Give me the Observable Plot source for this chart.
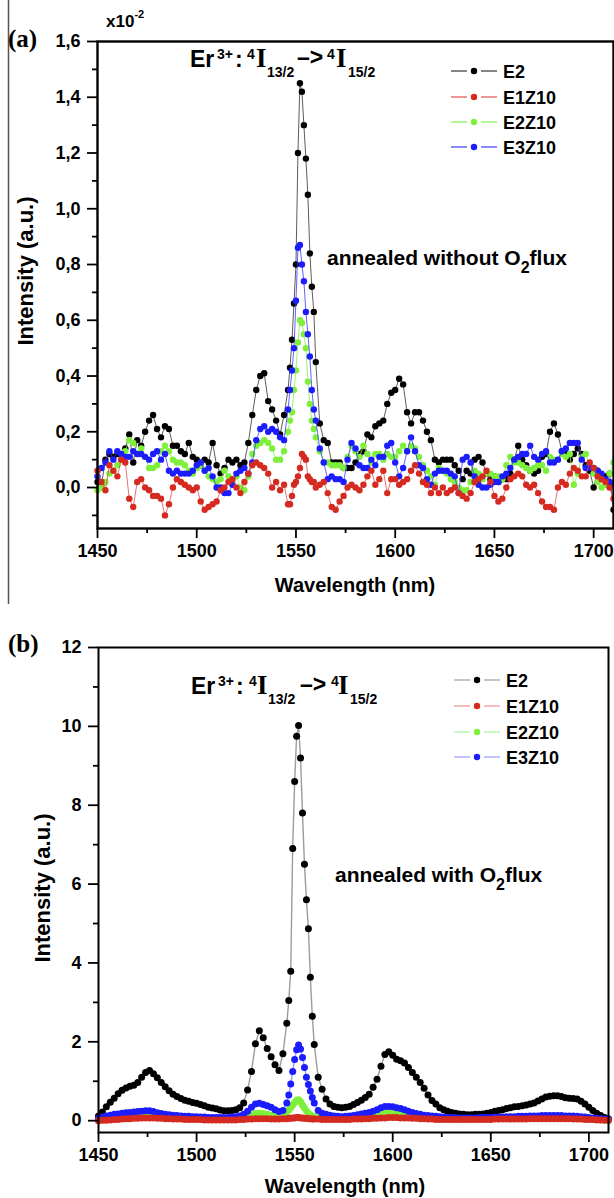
<!DOCTYPE html>
<html><head><meta charset="utf-8">
<script src="https://cdn.jsdelivr.net/npm/d3@7"></script>
<script src="https://cdn.jsdelivr.net/npm/@observablehq/plot@0.6"></script>
<style>
body{margin:0;background:#fff;}
#root{position:relative;width:614px;height:1198px;overflow:hidden;background:#fff;}
#root > svg{position:absolute;left:0;}
#overlay{position:absolute;left:0;top:0;pointer-events:none;}
</style></head><body><div id="root"></div>
<script>
// ---------- data ----------
const wavelength = [
  1450,1452,1454,1456,1458,1460,1462,1464,1466,1468,
  1470,1472,1474,1476,1478,1480,1482,1484,1486,1488,
  1490,1492,1494,1496,1498,1500,1502,1504,1506,1508,
  1510,1512,1514,1516,1518,1520,1522,1524,1526,1528,
  1530,1532,1534,1536,1538,1540,1542,1544,
  1546,1547,1548,1549,1550,1551,1552,1553,1554,1555,1556,1557,1558,1559,1560,
  1562,1564,1566,1568,1570,1572,1574,1576,1578,1580,
  1582,1584,1586,1588,1590,1592,1594,1596,1598,1600,
  1602,1604,1606,1608,1610,1612,1614,1616,1618,1620,
  1622,1624,1626,1628,1630,1632,1634,1636,1638,1640,
  1642,1644,1646,1648,1650,1652,1654,1656,1658,1660,
  1662,1664,1666,1668,1670,1672,1674,1676,1678,1680,
  1682,1684,1686,1688,1690,1692,1694,1696,1698,1700,
  1702,1704,1706,1708,1710
];

// panel (a): annealed without O2 flux (x10^-2)
const aE2 = [
  0.02,0.01,0.10,0.12,0.11,0.12,0.10,0.14,0.19,0.09,
  0.17,0.15,0.20,0.24,0.26,0.21,0.18,0.22,0.21,0.15,
  0.15,0.13,0.12,0.16,0.11,0.10,0.08,0.10,0.09,0.16,
  0.08,0.05,0.07,0.10,0.09,0.10,0.08,0.09,0.16,0.26,
  0.35,0.40,0.41,0.31,0.28,0.24,0.19,0.26,
  0.35,0.43,0.53,0.66,0.80,1.20,1.45,1.42,1.30,1.18,1.05,0.84,0.72,0.63,0.45,
  0.23,0.17,0.16,0.09,0.09,0.09,0.07,0.07,0.07,0.09,
  0.12,0.13,0.19,0.18,0.22,0.23,0.24,0.30,0.34,0.35,
  0.39,0.37,0.27,0.23,0.27,0.27,0.24,0.20,0.17,0.10,
  0.09,0.10,0.10,0.10,0.08,0.06,0.03,0.06,0.05,0.10,
  0.11,0.09,0.05,0.03,0.04,0.02,0.03,0.03,0.05,0.10,
  0.15,0.10,0.08,0.06,0.05,0.06,0.11,0.12,0.20,0.23,
  0.19,0.13,0.12,0.10,0.12,0.14,0.12,0.08,0.06,0.00,
  0.06,0.03,0.04,0.05,-0.08
];
const aE1Z10 = [
  0.06,0.02,-0.01,0.08,0.06,0.04,0.10,0.09,-0.04,-0.07,
  0.02,0.03,0.00,-0.01,-0.03,-0.03,-0.04,-0.10,-0.06,0.00,
  0.03,0.02,0.01,0.00,-0.01,0.00,-0.05,-0.08,-0.07,-0.06,
  -0.05,-0.01,0.00,0.02,0.03,0.00,-0.02,0.02,0.05,0.08,
  0.09,0.08,0.07,0.05,0.00,0.02,-0.01,0.01,
  -0.06,-0.06,-0.03,0.01,0.02,0.04,0.07,0.12,0.11,0.10,0.04,0.03,0.02,0.02,0.00,
  0.01,0.02,-0.02,-0.07,-0.08,-0.05,-0.03,0.00,0.01,0.00,
  -0.01,0.01,0.04,0.06,0.01,0.03,0.06,-0.02,0.03,0.03,
  0.01,0.02,0.03,0.06,0.08,0.05,0.02,0.01,-0.02,0.00,
  -0.02,0.00,-0.02,-0.01,0.00,-0.02,-0.03,-0.04,-0.02,0.02,
  0.03,0.04,0.06,0.02,-0.03,-0.05,-0.04,0.00,0.03,0.04,
  0.05,0.04,0.01,0.00,0.01,-0.02,-0.05,-0.07,-0.07,-0.08,
  0.00,0.02,0.01,0.05,0.07,0.06,0.04,0.04,0.09,0.07,
  0.04,0.03,0.02,0.00,-0.04
];
const aE2Z10 = [
  -0.01,0.00,0.02,0.05,0.06,0.08,0.10,0.13,0.17,0.16,
  0.12,0.14,0.11,0.07,0.07,0.08,0.13,0.15,0.13,0.10,
  0.09,0.09,0.08,0.06,0.05,0.07,0.08,0.06,0.04,0.03,
  0.02,0.03,0.06,0.04,0.02,0.04,0.00,-0.01,0.04,0.12,
  0.15,0.16,0.17,0.16,0.14,0.10,0.10,0.13,
  0.20,0.24,0.27,0.35,0.42,0.52,0.60,0.59,0.55,0.50,0.38,0.30,0.24,0.21,0.18,
  0.13,0.09,0.09,0.08,0.08,0.08,0.07,0.11,0.15,0.13,
  0.11,0.15,0.12,0.09,0.12,0.12,0.10,0.12,0.11,0.11,
  0.13,0.15,0.13,0.15,0.14,0.11,0.08,0.06,0.04,0.01,
  0.07,0.06,0.05,0.03,0.02,0.00,-0.01,-0.01,0.02,0.06,
  0.05,0.03,0.05,0.05,0.04,0.04,0.03,0.08,0.11,0.09,
  0.09,0.08,0.07,0.06,0.07,0.08,0.08,0.06,0.11,0.10,
  0.10,0.12,0.11,0.12,0.01,0.05,0.11,0.12,0.08,0.05,
  0.02,0.00,0.01,0.05,0.09
];
const aE3Z10 = [
  0.04,0.07,0.09,0.13,0.10,0.13,0.12,0.11,0.11,0.13,
  0.12,0.12,0.11,0.10,0.12,0.13,0.10,0.12,0.06,0.05,
  0.06,0.05,0.05,0.05,0.06,0.08,0.09,0.06,0.07,0.04,
  0.00,0.00,-0.02,-0.02,0.01,0.05,0.06,0.07,0.05,0.09,
  0.17,0.21,0.22,0.20,0.21,0.20,0.18,0.17,
  0.28,0.35,0.42,0.50,0.67,0.86,0.87,0.80,0.74,0.63,0.55,0.47,0.35,0.28,0.24,
  0.14,0.09,0.03,0.04,0.03,0.03,0.02,0.10,0.16,0.14,
  0.08,0.07,0.07,0.10,0.08,0.11,0.11,0.15,0.16,0.09,
  0.04,0.07,0.13,0.18,0.13,0.08,0.07,0.03,0.01,0.05,
  0.06,0.06,0.06,0.05,0.04,-0.02,0.10,0.11,0.09,0.04,
  0.01,0.00,0.00,0.01,0.02,0.02,0.04,0.05,0.07,0.10,
  0.11,0.12,0.12,0.15,0.11,0.10,0.12,0.13,0.09,0.09,
  0.10,0.13,0.14,0.16,0.16,0.16,0.10,0.07,0.07,0.07,
  0.06,0.05,0.03,0.02,0.01
];

// panel (b): annealed with O2 flux
const bE2 = [
  0.12,0.22,0.35,0.47,0.57,0.68,0.77,0.83,0.87,0.90,
  0.97,1.10,1.22,1.27,1.19,1.09,0.97,0.86,0.76,0.67,
  0.61,0.56,0.52,0.49,0.46,0.44,0.41,0.38,0.34,0.32,
  0.30,0.27,0.25,0.25,0.26,0.28,0.33,0.45,0.78,1.25,
  1.95,2.28,2.10,1.83,1.62,1.42,1.27,1.70,
  2.47,3.05,3.79,6.90,8.60,9.75,10.02,9.20,7.80,6.50,5.60,4.87,3.64,2.65,1.93,
  1.10,0.80,0.55,0.42,0.36,0.34,0.33,0.34,0.36,0.41,
  0.46,0.52,0.59,0.67,0.85,1.05,1.38,1.68,1.75,1.66,
  1.56,1.52,1.46,1.35,1.22,1.10,0.97,0.82,0.65,0.51,
  0.42,0.33,0.28,0.24,0.21,0.19,0.17,0.16,0.15,0.15,
  0.16,0.16,0.17,0.19,0.21,0.24,0.26,0.28,0.31,0.33,
  0.35,0.36,0.38,0.40,0.42,0.45,0.50,0.55,0.60,0.62,
  0.63,0.63,0.61,0.58,0.57,0.56,0.55,0.49,0.42,0.34,
  0.26,0.19,0.13,0.08,0.04
];
const bE1Z10 = [
  0.00,0.01,0.01,0.02,0.03,0.03,0.04,0.05,0.05,0.06,
  0.06,0.07,0.07,0.07,0.07,0.06,0.06,0.05,0.05,0.04,
  0.04,0.04,0.03,0.03,0.03,0.03,0.03,0.02,0.02,0.02,
  0.02,0.02,0.02,0.02,0.02,0.02,0.03,0.03,0.04,0.04,
  0.05,0.05,0.05,0.05,0.04,0.04,0.04,0.05,
  0.05,0.06,0.06,0.07,0.07,0.08,0.08,0.07,0.07,0.06,0.06,0.05,0.05,0.04,0.04,
  0.04,0.03,0.03,0.03,0.03,0.03,0.03,0.03,0.03,0.04,
  0.04,0.04,0.05,0.05,0.06,0.06,0.07,0.07,0.08,0.08,
  0.08,0.07,0.07,0.07,0.06,0.06,0.05,0.05,0.04,0.04,
  0.03,0.03,0.03,0.03,0.03,0.03,0.03,0.03,0.03,0.03,
  0.03,0.03,0.03,0.03,0.03,0.04,0.04,0.04,0.04,0.04,
  0.04,0.04,0.04,0.04,0.05,0.05,0.05,0.05,0.05,0.05,
  0.05,0.05,0.05,0.05,0.05,0.04,0.04,0.04,0.03,0.03,
  0.03,0.02,0.02,0.01,0.01
];
const bE2Z10 = [
  0.02,0.03,0.04,0.05,0.06,0.07,0.08,0.09,0.10,0.10,
  0.11,0.12,0.13,0.13,0.12,0.11,0.10,0.09,0.08,0.08,
  0.07,0.07,0.06,0.06,0.06,0.05,0.05,0.05,0.05,0.05,
  0.05,0.05,0.05,0.05,0.05,0.06,0.07,0.09,0.12,0.15,
  0.18,0.19,0.18,0.16,0.14,0.12,0.12,0.15,
  0.22,0.27,0.33,0.40,0.46,0.52,0.53,0.48,0.40,0.32,0.25,0.19,0.15,0.12,0.10,
  0.08,0.07,0.06,0.06,0.05,0.05,0.05,0.05,0.06,0.06,
  0.07,0.08,0.09,0.10,0.12,0.14,0.17,0.19,0.20,0.20,
  0.19,0.18,0.17,0.15,0.13,0.11,0.09,0.08,0.07,0.06,
  0.05,0.05,0.05,0.04,0.04,0.04,0.04,0.04,0.04,0.04,
  0.04,0.05,0.05,0.05,0.05,0.05,0.05,0.06,0.06,0.06,
  0.06,0.06,0.06,0.07,0.07,0.07,0.07,0.07,0.07,0.07,
  0.07,0.07,0.07,0.06,0.06,0.06,0.05,0.05,0.04,0.04,
  0.03,0.03,0.02,0.02,0.01
];
const bE3Z10 = [
  0.06,0.09,0.12,0.14,0.16,0.17,0.19,0.20,0.21,0.22,
  0.23,0.24,0.25,0.25,0.23,0.20,0.18,0.16,0.15,0.14,
  0.13,0.12,0.11,0.11,0.10,0.10,0.09,0.09,0.08,0.08,
  0.08,0.08,0.08,0.08,0.09,0.10,0.12,0.16,0.24,0.34,
  0.42,0.44,0.41,0.38,0.34,0.28,0.23,0.26,
  0.45,0.65,0.93,1.25,1.55,1.80,1.92,1.82,1.60,1.35,1.10,0.92,0.75,0.59,0.45,
  0.26,0.19,0.16,0.14,0.12,0.11,0.10,0.11,0.12,0.13,
  0.15,0.17,0.19,0.21,0.24,0.28,0.33,0.36,0.36,0.35,
  0.33,0.31,0.28,0.24,0.21,0.18,0.16,0.14,0.13,0.12,
  0.11,0.10,0.09,0.08,0.08,0.08,0.07,0.07,0.07,0.07,
  0.07,0.08,0.08,0.08,0.08,0.09,0.09,0.09,0.10,0.10,
  0.10,0.11,0.11,0.11,0.12,0.12,0.12,0.13,0.13,0.13,
  0.13,0.13,0.13,0.12,0.12,0.12,0.11,0.10,0.09,0.08,
  0.07,0.06,0.05,0.04,0.04
];

const seriesNames = ["E2", "E1Z10", "E2Z10", "E3Z10"];
const dotColors = ["#000000", "#d42a20", "#7ef03c", "#1c1cff"];
const aLineColors = ["#333333", "#e05050", "#80f050", "#3a3aff"];
const bLineColors = ["#9c9c9c", "#f09090", "#a8f0a0", "#9a9aff"];
const xTicks = [1450, 1500, 1550, 1600, 1650, 1700];
const xMinorTicks = [1475, 1525, 1575, 1625, 1675];
const aYTicks = [0, 0.2, 0.4, 0.6, 0.8, 1.0, 1.2, 1.4, 1.6];
const aYMinor = [-0.1, 0.1, 0.3, 0.5, 0.7, 0.9, 1.1, 1.3, 1.5];
const bYTicks = [0, 2, 4, 6, 8, 10, 12];
const bYMinor = [1, 3, 5, 7, 9, 11];

// ---------- drawing ----------
const FONT = "'Liberation Sans', Arial, Helvetica, sans-serif";
const drawOrder = [0, 2, 3, 1];

function panel(o) {
  o.series.forEach((s, k) => { if (s.length !== wavelength.length) console.error("length mismatch", seriesNames[k], s.length); });
  const rows = o.series.map((vals, k) => wavelength.map((w, i) => ({w, v: vals[i], s: seriesNames[k]})));
  const marks = [];
  for (const k of drawOrder) {
    marks.push(Plot.line(rows[k], {x: "w", y: "v", stroke: o.lineColors[k], strokeWidth: o.lineWidth}));
    marks.push(Plot.dot(rows[k], {x: "w", y: "v", r: o.r, fill: dotColors[k]}));
  }
  marks.push(Plot.axisX({ticks: xTicks, tickSize: 10, tickPadding: 6, strokeWidth: 1.8, fontSize: 18, fontWeight: "bold", tickFormat: d => String(d), label: null}));
  marks.push(Plot.axisX({ticks: xMinorTicks, tickSize: 5, strokeWidth: 1.8, tickFormat: () => "", label: null}));
  marks.push(Plot.axisY({ticks: o.yTicks, tickSize: 10, tickPadding: 7, strokeWidth: 1.8, fontSize: 18, fontWeight: "bold", tickFormat: o.yFormat, label: null}));
  marks.push(Plot.axisY({ticks: o.yMinor, tickSize: 5, strokeWidth: 1.8, tickFormat: () => "", label: null}));
  marks.push(Plot.frame({stroke: "#000", strokeWidth: o.frameWidth}));
  const svg = Plot.plot({
    width: 614, height: o.height,
    marginTop: o.mt, marginBottom: o.mb, marginLeft: o.ml, marginRight: o.mr,
    x: {domain: [1450, 1710]},
    y: {domain: o.yDomain},
    style: {fontFamily: FONT, background: "transparent", overflow: "visible", color: "#000"},
    marks
  });
  svg.style.top = o.top + "px";
  return svg;
}

const root = document.getElementById("root");
root.appendChild(panel({
  series: [aE2, aE1Z10, aE2Z10, aE3Z10], lineColors: aLineColors, lineWidth: 0.8, r: 3.2,
  yTicks: aYTicks, yMinor: aYMinor, yFormat: d => d.toFixed(1).replace(".", ","),
  yDomain: [-0.147, 1.6], height: 600, top: 0, mt: 41, mb: 72, ml: 97, mr: 1, frameWidth: 2.4
}));
root.appendChild(panel({
  series: [bE2, bE1Z10, bE2Z10, bE3Z10], lineColors: bLineColors, lineWidth: 1.4, r: 3.5,
  yTicks: bYTicks, yMinor: bYMinor, yFormat: d => String(d),
  yDomain: [-0.3, 12], height: 598, top: 600, mt: 47, mb: 66, ml: 98, mr: 6, frameWidth: 2
}));

// ---------- text overlay ----------
function titleSVG(dy, xs) {
  const p = (x, y, size, txt, fam) => `<tspan x="${x}" y="${y + dy}" font-size="${size}"${fam ? ` font-family="${fam}"` : ""}>${txt}</tspan>`;
  const serif = "'Liberation Serif', 'Times New Roman', serif";
  return `<text font-weight="bold" fill="#000">` +
    p(xs[0], 67, 23, "Er") + p(xs[1], 59, 14, "3+") + p(xs[2], 67, 23, ":") +
    p(xs[3], 59, 14, "4") + p(xs[4], 67, 27, "I", serif) + p(xs[5], 77, 14, "13/2") +
    p(xs[6], 65, 23, "–&gt;") +
    p(xs[7], 59, 14, "4") + p(xs[8], 67, 27, "I", serif) + p(xs[9], 77, 14, "15/2") +
    `</text>`;
}
function legendSVG(x0, ys, lineColors) {
  return ys.map((y, k) =>
    `<line x1="${x0}" x2="${x0 + 16}" y1="${y}" y2="${y}" stroke="${lineColors[k]}" stroke-width="1.2"/>` +
    `<line x1="${x0 + 30}" x2="${x0 + 46}" y1="${y}" y2="${y}" stroke="${lineColors[k]}" stroke-width="1.2"/>` +
    `<circle cx="${x0 + 23}" cy="${y}" r="3.2" fill="${dotColors[k]}"/>` +
    `<text x="${x0 + 52}" y="${y + 6.5}" font-size="18" font-weight="bold">${seriesNames[k]}</text>`
  ).join("");
}
const overlay = `<svg id="overlay" width="614" height="1198" font-family="${FONT.replace(/'/g, "&quot;")}">
  <line x1="8.5" x2="8.5" y1="0" y2="604" stroke="#555" stroke-width="1.5"/>
  <text x="8" y="47" font-size="25" font-weight="bold" font-family="Liberation Serif, Times New Roman, serif">(a)</text>
  <text x="8" y="652" font-size="25" font-weight="bold" font-family="Liberation Serif, Times New Roman, serif">(b)</text>
  <text x="106" y="27" font-size="17" font-weight="bold">x10<tspan font-size="11" dy="-9">-2</tspan></text>
  ${titleSVG(0, [190, 217, 235, 247, 256, 267, 297, 327, 336, 348])}
  ${titleSVG(627, [191, 218, 236, 249, 257, 268, 300, 331, 338, 350])}
  ${legendSVG(451, [71, 97, 122, 147], aLineColors)}
  ${legendSVG(454, [680, 706, 732, 757], bLineColors)}
  <text x="327" y="265" font-size="21" font-weight="bold">annealed without O<tspan font-size="16" dy="8">2</tspan><tspan dy="-8">flux</tspan></text>
  <text x="335" y="882" font-size="21" font-weight="bold">annealed with O<tspan font-size="16" dy="8">2</tspan><tspan dy="-8">flux</tspan></text>
  <text x="355" y="592" font-size="20" font-weight="bold" text-anchor="middle">Wavelength (nm)</text>
  <text x="345" y="1193" font-size="20" font-weight="bold" text-anchor="middle">Wavelength (nm)</text>
  <text transform="translate(33,271) rotate(-90)" font-size="22" font-weight="bold" text-anchor="middle">Intensity (a.u.)</text>
  <text transform="translate(50,888) rotate(-90)" font-size="22" font-weight="bold" text-anchor="middle">Intensity (a.u.)</text>
</svg>`;
root.insertAdjacentHTML("beforeend", overlay);
</script>
</body></html>
